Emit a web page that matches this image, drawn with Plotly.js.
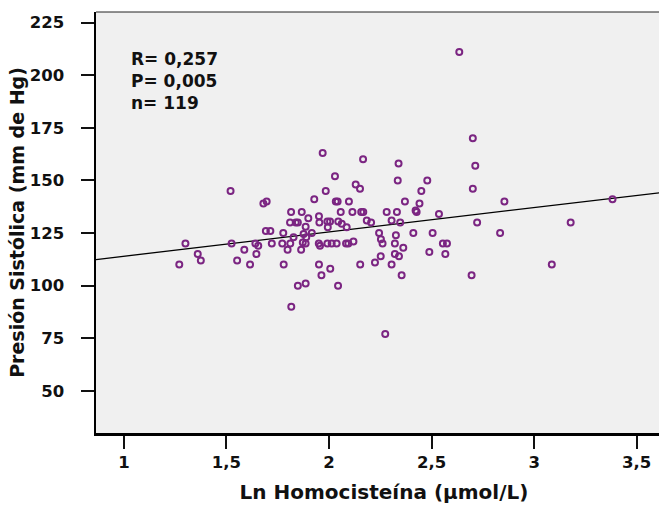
<!DOCTYPE html>
<html>
<head>
<meta charset="utf-8">
<script src="https://cdn.plot.ly/plotly-3.0.1.min.js"></script>
<style>
  html, body { margin: 0; padding: 0; background: #ffffff; overflow: hidden; }
  #frame { width: 659px; height: 506px; overflow: hidden; }
  #chart { width: 672px; height: 506px; }
</style>
</head>
<body>
<div id="frame"><div id="chart"></div></div>
<script>
// Ln homocysteine (µmol/L) for each subject
const lnHomocisteina = [
  1.27, 1.30, 1.36, 1.375, 1.52, 1.525, 1.552, 1.587,
  1.615, 1.641, 1.655, 1.646, 1.68, 1.696, 1.692, 1.714, 1.721,
  1.777, 1.772, 1.779, 1.798, 1.811, 1.815, 1.81, 1.816, 1.827, 1.838, 1.848,
  1.848, 1.864, 1.867, 1.872, 1.876, 1.886, 1.889, 1.886, 1.886, 1.899,
  1.916, 1.928, 1.951, 1.953, 1.950, 1.956, 1.951, 1.963, 1.969, 1.984,
  1.992, 1.992, 2.005, 1.994,
  2.006, 2.013, 2.029, 2.037, 2.033, 2.042, 2.044, 2.045, 2.057, 2.062,
  2.086, 2.083, 2.094, 2.097,
  2.114, 2.119, 2.130, 2.151, 2.152, 2.157, 2.167, 2.166, 2.184, 2.205,
  2.224, 2.244, 2.253, 2.261, 2.252, 2.274, 2.281,
  2.305, 2.321, 2.305, 2.326, 2.321, 2.331, 2.335, 2.339, 2.341, 2.347,
  2.354, 2.362, 2.370,
  2.411, 2.422, 2.427, 2.441, 2.450, 2.479, 2.489, 2.505, 2.536, 2.555,
  2.575, 2.567,
  2.635, 2.695, 2.701, 2.701, 2.713, 2.722, 2.834, 2.855, 3.086, 3.178, 3.382
];

// Systolic pressure (mm Hg) for the same subjects
const presionSistolica = [
  110, 120, 115, 112, 145, 120, 112, 117,
  110, 120, 119, 115, 139, 140, 126, 126, 120,
  125, 120, 110, 117, 120, 135, 130, 90, 123, 130, 130,
  100, 117, 135, 120.5, 124.5, 120, 123, 101, 128, 132,
  125, 141, 133, 130, 120, 119, 110, 105, 163, 145,
  120, 130.5, 130.5, 127.7,
  108, 120, 152, 120, 140, 140, 100, 130.5, 135, 129.4,
  127.8, 120, 120, 140,
  135, 121, 148, 146, 110, 135, 135, 160, 131, 130,
  111, 125, 122, 120, 114, 77, 135,
  131, 115, 110, 124, 120, 135, 150, 158, 114, 130,
  105, 118, 140,
  125, 135.7, 135, 139, 145, 150, 116, 125, 134, 120,
  120, 115,
  211, 105, 170, 146, 157, 130, 125, 140, 110, 130, 141
];

// Linear fit of systolic pressure on Ln homocysteine
const fitIntercept = 102.4;
const fitSlope = 11.56;

// Axis ranges and ticks
const xRange = [0.864, 3.672];
const yRange = [30, 230];
const xTickVals = [1, 1.5, 2, 2.5, 3, 3.5];
const xTickText = ['1', '1,5', '2', '2,5', '3', '3,5'];
const yTickVals = [50, 75, 100, 125, 150, 175, 200, 225];
const yTickText = ['50', '75', '100', '125', '150', '175', '200', '225'];

const statsLines = ['R= 0,257', 'P= 0,005', 'n= 119'];

const fontFamily = '"DejaVu Sans", "Liberation Sans", Arial, sans-serif';
const purple = '#7b2582';

const fitX = xRange.slice();
const fitY = fitX.map(x => fitIntercept + fitSlope * x);

const traces = [
  {
    type: 'scatter',
    mode: 'lines',
    x: fitX,
    y: fitY,
    line: { color: '#000000', width: 1.3 },
    hoverinfo: 'skip',
    showlegend: false
  },
  {
    type: 'scatter',
    mode: 'markers',
    x: lnHomocisteina,
    y: presionSistolica,
    marker: {
      symbol: 'circle-open',
      size: 6,
      color: purple,
      line: { color: purple, width: 2 }
    },
    showlegend: false
  }
];

const axisFont = { family: fontFamily, size: 16.5, color: '#111111', weight: 'bold' };

const layout = {
  width: 672,
  height: 506,
  margin: { l: 96, r: 0, t: 12, b: 73 },
  paper_bgcolor: '#ffffff',
  plot_bgcolor: '#f0f0f0',
  showlegend: false,
  xaxis: {
    range: xRange,
    tickmode: 'array',
    tickvals: xTickVals,
    ticktext: xTickText,
    ticks: 'outside',
    ticklen: 13,
    tickwidth: 2,
    tickcolor: '#111111',
    tickfont: axisFont,
    showgrid: false,
    zeroline: false,
    showline: true,
    linecolor: '#000000',
    linewidth: 2.5,
    title: {
      text: 'Ln Homocisteína (µmol/L)',
      font: { family: fontFamily, size: 20, color: '#111111', weight: 'bold' },
      standoff: 14
    },
    automargin: false
  },
  yaxis: {
    range: yRange,
    tickmode: 'array',
    tickvals: yTickVals,
    ticktext: yTickText,
    ticks: 'outside',
    ticklen: 13,
    tickwidth: 2,
    tickcolor: '#111111',
    tickfont: axisFont,
    ticklabelstandoff: 13,
    showgrid: false,
    zeroline: false,
    showline: true,
    linecolor: '#000000',
    linewidth: 2.5,
    title: {
      text: 'Presión Sistólica (mm de Hg)',
      font: { family: fontFamily, size: 19, color: '#111111', weight: 'bold' },
      standoff: 0
    },
    automargin: false
  },
  shapes: [
    {
      type: 'line', xref: 'paper', yref: 'paper',
      x0: 0, x1: 1, y0: 1, y1: 1,
      line: { color: '#222222', width: 1 }
    }
  ],
  annotations: [
    {
      xref: 'paper', yref: 'paper',
      x: 0.057, y: 0.916,
      xanchor: 'left', yanchor: 'top',
      align: 'left',
      showarrow: false,
      text: statsLines.join('<br>'),
      font: { family: fontFamily, size: 17, color: '#111111', weight: 'bold' }
    }
  ]
};

Plotly.newPlot('chart', traces, layout, { displayModeBar: false, staticPlot: true });
</script>
</body>
</html>
